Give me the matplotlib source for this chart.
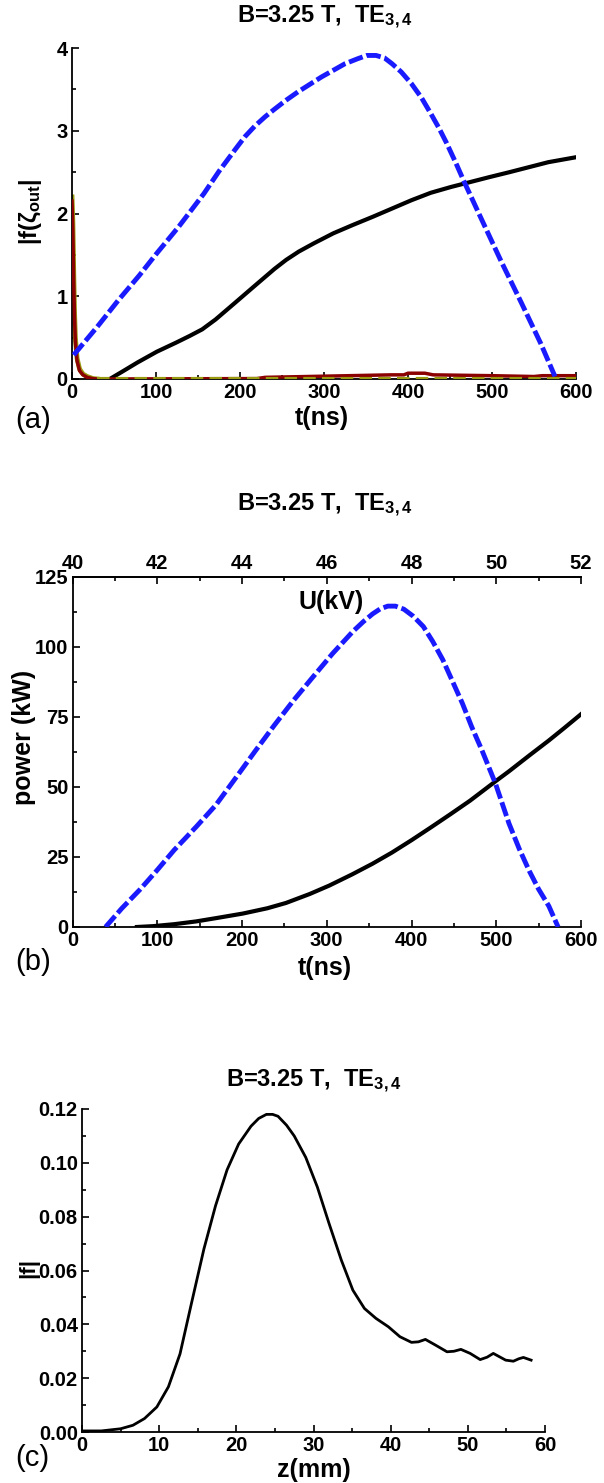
import matplotlib
matplotlib.use("Agg")
import matplotlib.pyplot as plt
import numpy as np
from matplotlib.ticker import MultipleLocator, FixedLocator, FormatStrFormatter

plt.rcParams['font.family'] = ['Liberation Sans', 'DejaVu Sans']
plt.rcParams['font.weight'] = 'bold'
plt.rcParams['mathtext.fontset'] = 'custom'
plt.rcParams['mathtext.rm'] = 'Liberation Sans:bold'
plt.rcParams['mathtext.bf'] = 'Liberation Sans:bold'
plt.rcParams['mathtext.it'] = 'Liberation Sans:bold'
plt.rcParams['mathtext.default'] = 'bf'

# ---------------- Panel (a) data ----------------
a_blue_t = [2, 30, 55, 80, 101, 127, 157, 175, 194, 206, 218, 230, 241, 255, 269, 283, 297, 311, 325, 340, 351, 362, 372, 381, 392, 404, 416, 427, 437, 446, 457, 467, 488, 511, 535, 558, 575]
a_blue_v = [0.29, 0.63, 0.95, 1.25, 1.52, 1.84, 2.24, 2.51, 2.77, 2.93, 3.06, 3.17, 3.26, 3.37, 3.47, 3.56, 3.65, 3.73, 3.81, 3.87, 3.91, 3.91, 3.88, 3.81, 3.71, 3.57, 3.40, 3.21, 3.03, 2.85, 2.61, 2.38, 1.92, 1.42, 0.92, 0.43, 0.03]
a_black_t = [45, 60, 78, 101, 124, 140, 155, 171, 194, 218, 241, 255, 270, 288, 311, 334, 358, 381, 404, 427, 451, 474, 497, 521, 544, 567, 600]
a_black_v = [0.0, 0.09, 0.20, 0.33, 0.44, 0.52, 0.60, 0.72, 0.92, 1.13, 1.33, 1.44, 1.54, 1.64, 1.76, 1.86, 1.96, 2.06, 2.16, 2.25, 2.32, 2.38, 2.44, 2.50, 2.56, 2.62, 2.68]
a_red_t = [0, 1, 2, 3, 4, 6, 9, 13, 18, 25, 30, 220, 230, 280, 330, 380, 395, 400, 420, 430, 500, 550, 560, 600]
a_red_v = [2.15, 1.8, 1.2, 0.75, 0.45, 0.22, 0.1, 0.05, 0.02, 0.004, 0.0, 0.005, 0.02, 0.03, 0.04, 0.05, 0.05, 0.07, 0.07, 0.05, 0.04, 0.03, 0.04, 0.04]
a_olive_t = [0, 1, 2, 3, 4, 6, 9, 13, 18, 25, 30]
a_olive_v = [2.2, 1.9, 1.3, 0.8, 0.5, 0.25, 0.12, 0.06, 0.03, 0.005, 0.0]
a_base_t = [30, 600]
a_base_v = [0.0, 0.0]

# ---------------- Panel (b) data ----------------
b_blue_t = [39, 58, 80, 99, 120, 146, 169, 192, 215, 238, 261, 284, 307, 331, 343, 354, 363, 372, 381, 391, 402, 414, 425, 437, 448, 460, 471, 483, 499, 515, 527, 539, 550, 562, 573]
b_blue_v = [0.0, 6.6, 13.5, 20.0, 27.5, 35.8, 43.5, 53, 62.6, 72, 81, 89.4, 97.7, 105.6, 109, 111.8, 113.6, 114.6, 114.6, 113.5, 111.0, 107.3, 102, 95.4, 88, 79.9, 71.5, 63.2, 51.3, 37, 28, 20, 13.5, 7.5, 0.0]
b_black_t = [76, 95, 120, 146, 170, 201, 230, 252, 280, 303, 330, 354, 377, 400, 423, 446, 469, 499, 515, 540, 562, 580, 600]
b_black_v = [0.0, 0.3, 1.0, 2.0, 3.2, 4.8, 6.7, 8.6, 11.8, 14.8, 18.8, 22.6, 26.6, 31.0, 35.6, 40.3, 45.1, 52.0, 55.6, 61.5, 66.6, 71.0, 76.0]

# ---------------- Panel (c) data ----------------
c_z = [0, 2.5, 5, 6.6, 8.1, 9.7, 11.2, 12.7, 14.2, 15.8, 17.3, 18.8, 20.3, 21.9, 22.9, 23.9, 24.7, 25.4, 26.5, 27.5, 29, 30.5, 32, 33.6, 35.1, 36.6, 38.1, 39.7, 41.2, 42.7, 43.6, 44.5, 45.8, 47.3, 48.2, 49.1, 50.3, 51.6, 52.5, 53.3, 54.9, 55.9, 56.6, 57.2, 58.2]
c_f = [0.0004, 0.0004, 0.0012, 0.0025, 0.005, 0.0093, 0.0168, 0.029, 0.048, 0.068, 0.084, 0.0974, 0.107, 0.1136, 0.1165, 0.1180, 0.1180, 0.1173, 0.1140, 0.110, 0.102, 0.091, 0.0776, 0.0639, 0.0527, 0.0459, 0.0422, 0.0391, 0.0354, 0.0333, 0.0335, 0.0344, 0.0323, 0.0298, 0.0300, 0.0307, 0.0292, 0.0269, 0.0278, 0.0292, 0.0267, 0.0263, 0.0272, 0.0277, 0.0267]

W, H = 604, 1483
fig = plt.figure(figsize=(W / 100, H / 100), dpi=100)


def fx(px):
    return px / W


def fy(py):
    return 1 - py / H


title = 'B=3.25 T,  TE$_{3,4}$'
TS = 14.5   # tick label size
TT = 17     # title size
LS = 18     # axis label size


def style(ax):
    ax.spines['right'].set_visible(False)
    ax.tick_params(which='both', direction='in', labelsize=TS, pad=3, width=1.2)
    ax.tick_params(which='major', length=5)
    ax.tick_params(which='minor', length=3)
    for lab in ax.get_xticklabels() + ax.get_yticklabels():
        lab.set_fontweight('bold')
    for s in ax.spines.values():
        s.set_linewidth(1.3)


DASH = (0, (3, 0.8))

# ---- (a) ----
axA = fig.add_axes([fx(72), fy(379), fx(576) - fx(72), fy(48) - fy(379)])
axA.spines['top'].set_visible(False)
axA.plot(a_black_t, a_black_v, color='black', lw=3.0, zorder=3)
axA.plot(a_blue_t, a_blue_v, color='#1a1aff', lw=3.5, ls=DASH, zorder=4)
axA.plot(a_olive_t, a_olive_v, color='#9a9a10', lw=3.5, zorder=2)
axA.plot(a_red_t, a_red_v, color='#8b0000', lw=2.5, zorder=3)
axA.plot(a_base_t, a_base_v, color='#9a9a10', lw=3.0, ls=(0, (3, 1.5)), zorder=4)
axA.set_xlim(0, 600)
axA.set_ylim(0, 4)
axA.xaxis.set_major_locator(MultipleLocator(100))
axA.xaxis.set_minor_locator(MultipleLocator(50))
axA.yaxis.set_major_locator(MultipleLocator(1))
axA.yaxis.set_minor_locator(MultipleLocator(0.5))
style(axA)
fig.text(fx(325), fy(17), title, ha='center', va='center', fontsize=TT, fontweight='bold')
fig.text(fx(322), fy(418), 't(ns)', ha='center', va='center', fontsize=LS, fontweight='bold')
fig.text(fx(33), fy(420), '(a)', ha='center', va='center', fontsize=21, fontweight='normal')
fig.text(fx(31), fy(212), r'|f($\zeta_{out}$|', ha='center', va='center', fontsize=17, fontweight='bold', rotation=90)

# ---- (b) ----
axB = fig.add_axes([fx(72.5), fy(927), fx(581) - fx(72.5), fy(577) - fy(927)])
axB.plot(b_black_t, b_black_v, color='black', lw=3.0, zorder=3)
axB.plot(b_blue_t, b_blue_v, color='#1a1aff', lw=3.5, ls=DASH, zorder=4)
axB.set_xlim(0, 600)
axB.set_ylim(0, 125)
axB.xaxis.set_major_locator(MultipleLocator(100))
axB.xaxis.set_minor_locator(MultipleLocator(50))
axB.yaxis.set_major_locator(MultipleLocator(25))
axB.yaxis.set_minor_locator(MultipleLocator(12.5))
style(axB)
sec = axB.secondary_xaxis('top', functions=(lambda t: 40 + t / 50.0, lambda u: (u - 40) * 50.0))
sec.xaxis.set_major_locator(FixedLocator([40, 42, 44, 46, 48, 50, 52]))
sec.xaxis.set_minor_locator(FixedLocator([41, 43, 45, 47, 49, 51]))
sec.xaxis.set_major_formatter(FormatStrFormatter('%d'))
sec.tick_params(which='both', direction='in', labelsize=TS, pad=3, width=1.2)
sec.tick_params(which='major', length=5)
sec.tick_params(which='minor', length=3)
sec.spines['top'].set_linewidth(1.3)
for lab in sec.get_xticklabels():
    lab.set_fontweight('bold')
fig.text(fx(325), fy(505), title, ha='center', va='center', fontsize=TT, fontweight='bold')
fig.text(fx(331), fy(602), 'U(kV)', ha='center', va='center', fontsize=LS, fontweight='bold')
fig.text(fx(325), fy(968), 't(ns)', ha='center', va='center', fontsize=LS, fontweight='bold')
fig.text(fx(33), fy(962), '(b)', ha='center', va='center', fontsize=21, fontweight='normal')
fig.text(fx(24), fy(737), 'power (kW)', ha='center', va='center', fontsize=LS, fontweight='bold', rotation=90)

# ---- (c) ----
axC = fig.add_axes([fx(82), fy(1432), fx(545) - fx(82), fy(1109) - fy(1432)])
axC.spines['top'].set_visible(False)
axC.plot(c_z, c_f, color='black', lw=2.0)
axC.set_xlim(0, 60)
axC.set_ylim(0, 0.12)
axC.xaxis.set_major_locator(MultipleLocator(10))
axC.xaxis.set_minor_locator(MultipleLocator(5))
axC.yaxis.set_major_locator(MultipleLocator(0.02))
axC.yaxis.set_minor_locator(MultipleLocator(0.01))
axC.yaxis.set_major_formatter(FormatStrFormatter('%.2f'))
style(axC)
fig.text(fx(314), fy(1081), title, ha='center', va='center', fontsize=TT, fontweight='bold')
fig.text(fx(314), fy(1470), 'z(mm)', ha='center', va='center', fontsize=LS, fontweight='bold')
fig.text(fx(32), fy(1458), '(c)', ha='center', va='center', fontsize=21, fontweight='normal')
fig.text(fx(29), fy(1268), '|f|', ha='center', va='center', fontsize=16, fontweight='bold', rotation=90)

fig.savefig('out.png', dpi=100)
